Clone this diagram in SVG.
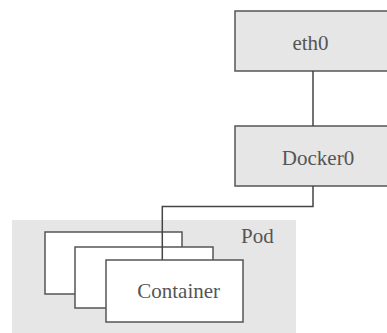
<svg xmlns="http://www.w3.org/2000/svg" width="387" height="333" viewBox="0 0 387 333">
<style>
.box{fill:#e6e6e6;stroke:#555;stroke-width:1.5}
.ctr{fill:#fff;stroke:#555;stroke-width:1.5}
.wire{fill:none;stroke:#444;stroke-width:1.5}
</style>
<rect width="387" height="333" fill="#fff"/>
<g font-family="'Liberation Serif', serif" font-size="21" fill="#555">
<g id="pod">
<rect x="12" y="220" width="284" height="115" fill="#e6e6e6"/>
<text x="241" y="243">Pod</text>
</g>
<g id="container-back">
<rect class="ctr" x="45" y="232" width="137" height="62"/>
</g>
<g id="container-mid">
<rect class="ctr" x="75" y="247" width="138" height="61"/>
</g>
<g id="eth0">
<rect class="box" x="235" y="11" width="170" height="60"/>
<text x="310.5" y="50" text-anchor="middle">eth0</text>
</g>
<g id="docker0">
<rect class="box" x="235" y="126" width="170" height="60"/>
<text x="318" y="165" text-anchor="middle">Docker0</text>
</g>
<g id="connectors">
<path class="wire" d="M313 71V126"/>
<path class="wire" d="M313 186V206.5H162.3V260"/>
</g>
<g id="container">
<rect class="ctr" x="106" y="260" width="137" height="62"/>
<text x="178.7" y="298" text-anchor="middle">Container</text>
</g>
</g>
</svg>
